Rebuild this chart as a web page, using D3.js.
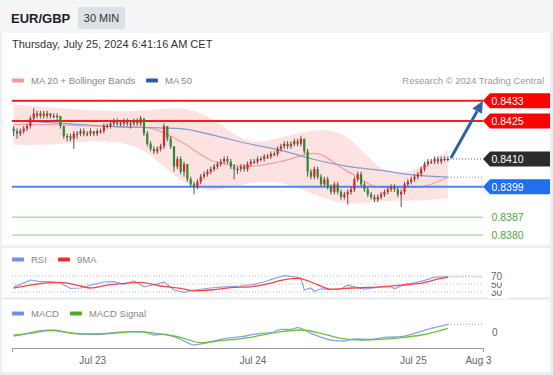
<!DOCTYPE html>
<html lang="en">
<head>
<meta charset="UTF-8">
<title>EUR/GBP 30 MIN</title>
<script src="https://d3js.org/d3.v7.min.js"></script>
<style>
    body { margin: 0; background: #edf0f3; overflow: hidden; }
    svg { display: block; }
    text { font-family: "Liberation Sans", Arial, sans-serif; }
</style>
</head>
<body>
<script>
// ---- candles, 30 min bars from Jul 22 12:00 ----
var opens = [0.8422,0.8421,0.8420,0.8421,0.8422,0.8423,0.8426,0.8428,0.8427,0.8428,
    0.8427,0.8428,0.8427,0.8427,0.8427,0.8423,0.8419,0.8419,0.8418,0.8420,
    0.8420,0.8421,0.8420,0.8420,0.8421,0.8420,0.8421,0.8421,0.8423,0.8423,
    0.8424,0.8425,0.8424,0.8424,0.8425,0.8424,0.8424,0.8425,0.8424,0.8426,
    0.8420,0.8416,0.8414,0.8413,0.8414,0.8415,0.8423,0.8418,0.8415,0.8407,
    0.8410,0.8405,0.8408,0.8402,0.8400,0.8399,0.8401,0.8403,0.8404,0.8405,
    0.8406,0.8407,0.8408,0.8409,0.8410,0.8409,0.8407,0.8406,0.8406,0.8407,
    0.8406,0.8408,0.8409,0.8409,0.8410,0.8410,0.8411,0.8411,0.8412,0.8412,
    0.8414,0.8415,0.8416,0.8415,0.8416,0.8417,0.8416,0.8418,0.8413,0.8405,
    0.8403,0.8406,0.8403,0.8400,0.8402,0.8399,0.8397,0.8400,0.8397,0.8395,
    0.8396,0.8397,0.8398,0.8402,0.8404,0.8400,0.8398,0.8396,0.8395,0.8394,
    0.8395,0.8396,0.8397,0.8398,0.8399,0.8398,0.8396,0.8397,0.8400,0.8401,
    0.8402,0.8403,0.8404,0.8406,0.8408,0.8409,0.8409,0.8410,0.8409,0.8410,
    0.8410];
var highs = [0.8423,0.8422,0.8422,0.8423,0.8424,0.8427,0.8430,0.8429,0.8429,0.8429,
    0.8429,0.8428,0.8428,0.8428,0.8427,0.8423,0.8420,0.8420,0.8421,0.8421,
    0.8422,0.8422,0.8421,0.8422,0.8421,0.8422,0.8422,0.8424,0.8424,0.8425,
    0.8426,0.8426,0.8425,0.8426,0.8426,0.8425,0.8426,0.8426,0.8427,0.8426,
    0.8421,0.8417,0.8415,0.8415,0.8416,0.8424,0.8423,0.8419,0.8415,0.8411,
    0.8411,0.8409,0.8408,0.8403,0.8401,0.8402,0.8404,0.8405,0.8406,0.8407,
    0.8408,0.8409,0.8410,0.8411,0.8411,0.8410,0.8408,0.8407,0.8408,0.8408,
    0.8409,0.8410,0.8410,0.8411,0.8411,0.8412,0.8412,0.8413,0.8413,0.8415,
    0.8416,0.8417,0.8417,0.8417,0.8418,0.8418,0.8419,0.8418,0.8414,0.8406,
    0.8407,0.8407,0.8404,0.8403,0.8403,0.8400,0.8401,0.8401,0.8398,0.8397,
    0.8398,0.8399,0.8403,0.8405,0.8405,0.8401,0.8399,0.8397,0.8396,0.8396,
    0.8397,0.8398,0.8399,0.8400,0.8400,0.8399,0.8398,0.8401,0.8402,0.8403,
    0.8404,0.8405,0.8407,0.8409,0.8410,0.8410,0.8411,0.8411,0.8411,0.8411,
    0.8411];
var lows = [0.8419,0.8418,0.8419,0.8420,0.8421,0.8422,0.8425,0.8426,0.8426,0.8426,
    0.8426,0.8426,0.8426,0.8425,0.8422,0.8418,0.8417,0.8417,0.8414,0.8418,
    0.8419,0.8419,0.8419,0.8419,0.8419,0.8419,0.8420,0.8420,0.8422,0.8422,
    0.8423,0.8423,0.8423,0.8423,0.8423,0.8422,0.8423,0.8423,0.8423,0.8419,
    0.8415,0.8413,0.8412,0.8412,0.8413,0.8414,0.8417,0.8414,0.8405,0.8406,
    0.8404,0.8403,0.8401,0.8399,0.8396,0.8398,0.8400,0.8402,0.8403,0.8404,
    0.8405,0.8406,0.8407,0.8408,0.8408,0.8406,0.8402,0.8404,0.8405,0.8405,
    0.8405,0.8407,0.8408,0.8408,0.8409,0.8409,0.8410,0.8410,0.8411,0.8411,
    0.8413,0.8414,0.8414,0.8414,0.8415,0.8415,0.8415,0.8412,0.8403,0.8402,
    0.8402,0.8402,0.8399,0.8399,0.8398,0.8396,0.8396,0.8396,0.8394,0.8394,
    0.8392,0.8396,0.8397,0.8401,0.8399,0.8397,0.8395,0.8394,0.8393,0.8393,
    0.8394,0.8395,0.8396,0.8397,0.8397,0.8395,0.8391,0.8396,0.8399,0.8400,
    0.8401,0.8402,0.8403,0.8405,0.8407,0.8408,0.8408,0.8408,0.8408,0.8409,
    0.8409];
var closes = [0.8421,0.8420,0.8421,0.8422,0.8423,0.8426,0.8428,0.8427,0.8428,0.8427,
    0.8428,0.8427,0.8427,0.8427,0.8423,0.8419,0.8419,0.8418,0.8420,0.8420,
    0.8421,0.8420,0.8420,0.8421,0.8420,0.8421,0.8421,0.8423,0.8423,0.8424,
    0.8425,0.8424,0.8424,0.8425,0.8424,0.8424,0.8425,0.8424,0.8426,0.8420,
    0.8416,0.8414,0.8413,0.8414,0.8415,0.8423,0.8418,0.8415,0.8407,0.8410,
    0.8405,0.8408,0.8402,0.8400,0.8399,0.8401,0.8403,0.8404,0.8405,0.8406,
    0.8407,0.8408,0.8409,0.8410,0.8409,0.8407,0.8406,0.8406,0.8407,0.8406,
    0.8408,0.8409,0.8409,0.8410,0.8410,0.8411,0.8411,0.8412,0.8412,0.8414,
    0.8415,0.8416,0.8415,0.8416,0.8417,0.8416,0.8418,0.8413,0.8405,0.8403,
    0.8406,0.8403,0.8400,0.8402,0.8399,0.8397,0.8400,0.8397,0.8395,0.8396,
    0.8397,0.8398,0.8402,0.8404,0.8400,0.8398,0.8396,0.8395,0.8394,0.8395,
    0.8396,0.8397,0.8398,0.8399,0.8398,0.8396,0.8397,0.8400,0.8401,0.8402,
    0.8403,0.8404,0.8406,0.8408,0.8409,0.8409,0.8410,0.8409,0.8410,0.8410,
    0.8410];

// ---- moving averages / bollinger, sampled every 10 bars ----
var bandIdx = [0,10,20,30,40,50,60,70,80,90,100,110,120,130];
var bbUpper = [0.84314,0.84306,0.84295,0.84287,0.84291,0.84310,0.84263,0.84149,0.84185,0.84220,0.84212,0.84032,0.84047,0.84134];
var bbLower = [0.84157,0.84153,0.84169,0.84173,0.84140,0.84000,0.83965,0.84008,0.84016,0.83957,0.83914,0.83937,0.83933,0.83945];
var ma20 = [0.84236,0.84236,0.84232,0.84228,0.84224,0.84169,0.84090,0.84071,0.84090,0.84122,0.84051,0.83988,0.83988,0.84028];
var ma50 = [0.84251,0.84244,0.84236,0.84228,0.84224,0.84220,0.84193,0.84161,0.84134,0.84098,0.84071,0.84055,0.84036,0.84028];

// ---- key levels ----
var resistance = [0.8433, 0.8425];
var pivot = [0.8399];
var support = [0.8387, 0.8380];
var lastPrice = 0.8410;

// ---- RSI ----
var rsiIdx = [0,2,5,8,11,14,17,20,24,27,30,33,36,39,44,45,48,51,54,59,63,68,72,75,78,81,84,86,87,89,90,92,95,98,100,102,105,110,113,114,117,120,123,126,130];
var rsiVals = [43,49,60,56,56,52,39,40,49,55,56,49,58,43,52,55,35,29,35,40,43,45,49,55,64,71,68,65,35,40,32,38,36,38,47,43,37,43,43,38,49,53,59,67,68];
var rsiMaIdx = [0,5,10,14,20,23,28,34,38,44,50,54,59,65,71,77,80,85,89,95,101,110,116,122,128,130];
var rsiMaVals = [40,47,53,54,45,40,47,52,54,45,39,33,35,41,43,52,59,64,55,37,40,43,47,52,64,67];
var rsiLevels = [30, 50, 70];

// ---- MACD ----
var macdIdx = [0,3,8,12,17,21,26,30,35,39,42,45,50,54,57,62,68,74,77,80,83,85,89,92,96,99,102,107,111,116,120,125,130];
var macdVals = [-0.000040,-0.000023,0.000013,0.000020,-0.000013,-0.000023,-0.000023,-0.000007,0.000003,0,
    -0.000030,-0.000023,-0.000073,-0.000130,-0.000113,-0.000073,-0.000047,-0.000013,-0.000007,0.000027,
    0.000027,0.000043,-0.000013,-0.000053,-0.000087,-0.000090,-0.000070,-0.000073,-0.000053,-0.000047,
    -0.000013,0.000037,0.000077];
var sigIdx = [0,5,11,17,23,29,37,44,50,56,62,71,77,80,86,92,98,104,110,116,122,130];
var sigVals = [-0.000030,-0.000013,0.000013,-0.000007,-0.000020,-0.000013,0.000003,-0.000020,-0.000053,-0.000107,
    -0.000087,-0.000053,-0.000013,0.000003,0.000020,-0.000013,-0.000063,-0.000080,-0.000073,-0.000057,
    -0.000030,0.000037];

// ---- axis ----
var tickIdx = [24, 72, 120, 139.5];
var tickLabels = ["Jul 23", "Jul 24", "Jul 25", "Aug 3"];

var width = 553, height = 375;
var svg = d3.select("body").append("svg")
    .attr("width", width)
    .attr("height", height);

// panels
svg.append("rect").attr("x", 0).attr("y", 0).attr("width", width).attr("height", 33).attr("fill", "#f3f5f7");
svg.append("rect").attr("x", 2).attr("y", 33).attr("width", 548).attr("height", 212).attr("fill", "#fff");
svg.append("rect").attr("x", 2).attr("y", 248).attr("width", 548).attr("height", 49).attr("fill", "#fff");
svg.append("rect").attr("x", 2).attr("y", 300).attr("width", 548).attr("height", 72).attr("fill", "#fff");

// header
svg.append("text").attr("x", 11).attr("y", 23).attr("font-size", 13).attr("font-weight", "bold")
    .attr("fill", "#222").text("EUR/GBP");
svg.append("rect").attr("x", 78).attr("y", 7).attr("width", 47).attr("height", 22).attr("fill", "#dde1e6");
svg.append("text").attr("x", 101.5).attr("y", 22).attr("font-size", 11).attr("text-anchor", "middle")
    .attr("fill", "#333").text("30 MIN");
svg.append("text").attr("x", 12).attr("y", 48).attr("font-size", 11).attr("fill", "#333")
    .text("Thursday, July 25, 2024 6:41:16 AM CET");

// scales
var x = d3.scaleLinear().domain([0, 141]).range([12, 483]);
var cx = function(i) { return x(i + 0.5); };
var y = d3.scaleLinear().domain([0.8380, 0.8433]).range([235, 100.7]);
var yR = d3.scaleLinear().domain([30, 70]).range([292, 276]);
var yM = d3.scaleLinear().domain([-0.0001, 0.0001]).range([342, 322]);

function legendItem(px, py, color, label) {
    svg.append("rect").attr("x", px).attr("y", py - 2).attr("width", 12).attr("height", 4)
        .attr("rx", 1).attr("fill", color);
    svg.append("text").attr("x", px + 19).attr("y", py + 3.4).attr("font-size", 9.5)
        .attr("fill", "#888").text(label);
}

// legend main
legendItem(12, 80.5, "#f49a9a", "MA 20 + Bollinger Bands");
legendItem(146, 80.5, "#2f5b9a", "MA 50");
svg.append("text").attr("x", 544).attr("y", 84).attr("font-size", 9.5).attr("text-anchor", "end")
    .attr("fill", "#999").text("Research \u00a9 2024 Trading Central");

// bollinger band
var band = d3.area()
    .x(function(d, i) { return cx(bandIdx[i]); })
    .y0(function(d, i) { return y(bbLower[i]); })
    .y1(function(d, i) { return y(bbUpper[i]); })
    .curve(d3.curveBasis);
svg.append("path").datum(bandIdx).attr("d", band).attr("fill", "#fde2e2");

function idxLine(idx, scale) {
    return d3.line()
        .x(function(d, i) { return cx(idx[i]); })
        .y(function(d) { return scale(d); })
        .curve(d3.curveMonotoneX);
}

svg.append("path").datum(ma20).attr("d", idxLine(bandIdx, y)).attr("fill", "none")
    .attr("stroke", "#f5a0a0").attr("stroke-width", 1.2);
svg.append("path").datum(ma50).attr("d", idxLine(bandIdx, y)).attr("fill", "none")
    .attr("stroke", "#7f9dd2").attr("stroke-width", 1.2);
svg.append("line").attr("x1", cx(130)).attr("x2", 483)
    .attr("y1", y(ma50[ma50.length - 1])).attr("y2", y(ma50[ma50.length - 1]))
    .attr("stroke", "#7f9dd2").attr("stroke-dasharray", "1,2");

// key levels
resistance.forEach(function(v) {
    svg.append("line").attr("x1", 12).attr("x2", 483).attr("y1", y(v)).attr("y2", y(v))
        .attr("stroke", "#ff1a1a").attr("stroke-width", 2);
});
pivot.forEach(function(v) {
    svg.append("line").attr("x1", 12).attr("x2", 483).attr("y1", y(v)).attr("y2", y(v))
        .attr("stroke", "#4d86f0").attr("stroke-width", 2);
});
support.forEach(function(v) {
    svg.append("line").attr("x1", 12).attr("x2", 483).attr("y1", y(v)).attr("y2", y(v))
        .attr("stroke", "#b3dcae").attr("stroke-width", 1.5);
});

// candles
var bars = d3.range(closes.length);
svg.append("g").selectAll("line").data(bars).join("line")
    .attr("x1", function(i) { return cx(i); })
    .attr("x2", function(i) { return cx(i); })
    .attr("y1", function(i) { return y(highs[i]); })
    .attr("y2", function(i) { return y(lows[i]); })
    .attr("stroke", "#555").attr("stroke-width", 1);
svg.append("g").selectAll("rect").data(bars).join("rect")
    .attr("x", function(i) { return cx(i) - 1.1; })
    .attr("width", 2.2)
    .attr("y", function(i) { return y(Math.max(opens[i], closes[i])); })
    .attr("height", function(i) { return Math.max(1, Math.abs(y(opens[i]) - y(closes[i]))); })
    .attr("fill", function(i) {
        if (closes[i] > opens[i]) return "#e02424";
        if (closes[i] < opens[i]) return "#2e8a2e";
        return "#444";
    });

// last price dotted + arrow
var lastX = cx(closes.length - 1);
svg.append("line").attr("x1", lastX + 2).attr("x2", 483).attr("y1", y(lastPrice)).attr("y2", y(lastPrice))
    .attr("stroke", "#555").attr("stroke-dasharray", "1,2");

var ax0 = lastX + 3, ay0 = y(lastPrice) - 1, ax1 = 483, ay1 = y(resistance[0]);
var dx = ax1 - ax0, dy = ay1 - ay0, len = Math.sqrt(dx * dx + dy * dy);
var ux = dx / len, uy = dy / len;
var bx = ax1 - ux * 12, by = ay1 - uy * 12;
svg.append("line").attr("x1", ax0).attr("y1", ay0).attr("x2", bx).attr("y2", by)
    .attr("stroke", "#2c62a6").attr("stroke-width", 3);
svg.append("path")
    .attr("d", "M" + ax1 + "," + ay1 + "L" + (bx - uy * 5.5) + "," + (by + ux * 5.5) +
        "L" + (bx + uy * 5.5) + "," + (by - ux * 5.5) + "Z")
    .attr("fill", "#2c62a6");

// price tags
function tag(v, color, txtColor) {
    var c = y(v);
    svg.append("path")
        .attr("d", "M483," + c + "L490," + (c - 7.5) + "H550V" + (c + 7.5) + "H490Z")
        .attr("fill", color);
    svg.append("text").attr("x", 491.5).attr("y", c + 3.8).attr("font-size", 10.5)
        .attr("fill", txtColor).text(v.toFixed(4));
}
resistance.forEach(function(v) { tag(v, "#ff0000", "#fff"); });
tag(lastPrice, "#2b2b2b", "#fff");
pivot.forEach(function(v) { tag(v, "#1f6ff0", "#fff"); });
support.forEach(function(v) {
    svg.append("text").attr("x", 491.5).attr("y", y(v) + 3.8).attr("font-size", 10.5)
        .attr("fill", "#4ea83a").text(v.toFixed(4));
});

// ---- RSI panel ----
legendItem(12, 259.5, "#6f8fe8", "RSI");
legendItem(58, 259.5, "#f02a2a", "9MA");
rsiLevels.forEach(function(v) {
    svg.append("line").attr("x1", 12).attr("x2", 483).attr("y1", yR(v)).attr("y2", yR(v))
        .attr("stroke", "#bbb").attr("stroke-dasharray", "1,2");
});
svg.append("path").datum(rsiVals).attr("d", idxLine(rsiIdx, yR).curve(d3.curveLinear))
    .attr("fill", "none").attr("stroke", "#8aa5f0").attr("stroke-width", 1.2);
svg.append("line").attr("x1", cx(130)).attr("x2", 483)
    .attr("y1", yR(rsiVals[rsiVals.length - 1])).attr("y2", yR(rsiVals[rsiVals.length - 1]))
    .attr("stroke", "#8aa5f0").attr("stroke-dasharray", "1,2");
svg.append("path").datum(rsiMaVals).attr("d", idxLine(rsiMaIdx, yR))
    .attr("fill", "none").attr("stroke", "#f04848").attr("stroke-width", 1.3);
rsiLevels.forEach(function(v) {
    svg.append("rect").attr("x", 488).attr("y", yR(v) - 6.5).attr("width", 22).attr("height", 13)
        .attr("fill", "#fff");
    svg.append("text").attr("x", 491).attr("y", yR(v) + 3.6).attr("font-size", 10)
        .attr("fill", "#666").text(v);
});

// ---- MACD panel ----
legendItem(12, 313.5, "#6f8fe8", "MACD");
legendItem(70, 313.5, "#4caa1e", "MACD Signal");
svg.append("path").datum(macdVals).attr("d", idxLine(macdIdx, yM))
    .attr("fill", "none").attr("stroke", "#8aa5f0").attr("stroke-width", 1.3);
svg.append("line").attr("x1", cx(130)).attr("x2", 483)
    .attr("y1", yM(macdVals[macdVals.length - 1])).attr("y2", yM(macdVals[macdVals.length - 1]))
    .attr("stroke", "#8aa5f0").attr("stroke-dasharray", "1,2");
svg.append("path").datum(sigVals).attr("d", idxLine(sigIdx, yM))
    .attr("fill", "none").attr("stroke", "#6cbf3c").attr("stroke-width", 1.3);
svg.append("text").attr("x", 492).attr("y", yM(0) + 3.6).attr("font-size", 10)
    .attr("fill", "#666").text("0");

// time axis
var axis = svg.append("g").attr("transform", "translate(0,348)")
    .call(d3.axisBottom(x).tickValues(tickIdx)
        .tickFormat(function(d, i) { return tickLabels[i]; })
        .tickSizeInner(0).tickSizeOuter(4).tickPadding(9));
axis.select(".domain").attr("stroke", "#999");
axis.selectAll("text").attr("font-size", 10).attr("fill", "#666")
    .attr("font-family", "'Liberation Sans', Arial, sans-serif");
</script>
</body>
</html>
